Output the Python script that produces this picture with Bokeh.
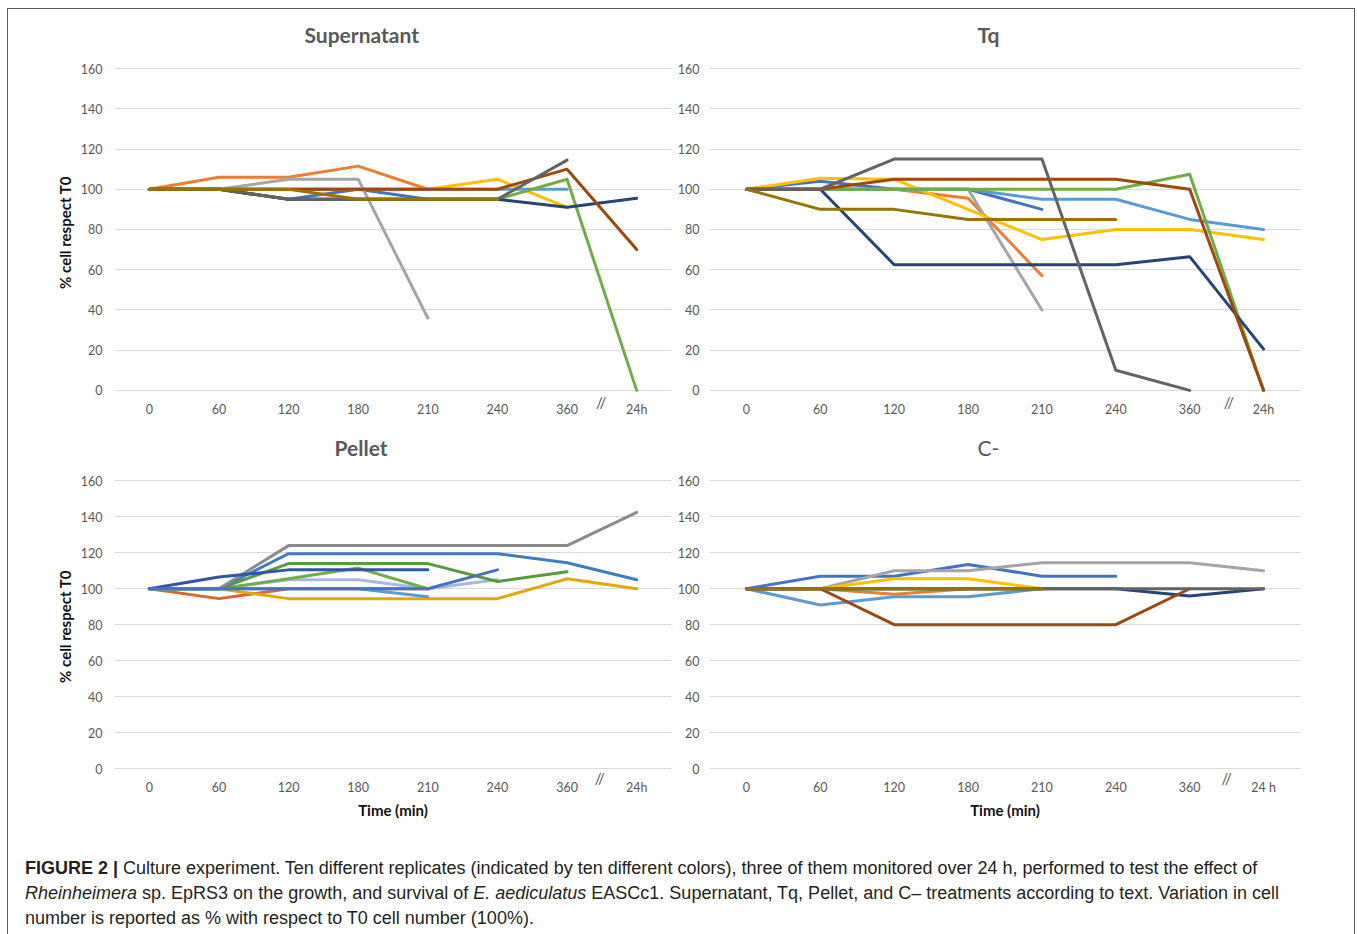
import math
from bokeh.plotting import figure
from bokeh.models import Range1d, FactorRange, Label, Div, SingleIntervalTicker
from bokeh.layouts import column, row
from bokeh.embed import file_html
from bokeh.resources import INLINE

N = None

# ---------------- data ----------------
times = ["0", "60", "120", "180", "210", "240", "360", "24h"]
times_c = ["0", "60", "120", "180", "210", "240", "360", "24 h"]
y_ticks_step = 20

std_colors = ["#4472C4", "#ED7D31", "#A5A5A5", "#FFC000", "#5B9BD5",
              "#70AD47", "#264478", "#9E480E", "#636363", "#997300"]
pellet_colors = ["#D8692E", "#E2A70C", "#5B9BD5", "#A9B8E2", "#70AD47",
                 "#5A9A3A", "#3D7EBE", "#8C8C8C", "#2F55A4", "#4472C4"]

# Supernatant (order: blue, orange, gray, yellow, light blue, green, navy, brown, dark gray, olive)
sup_blue   = [100, 100, 95, 100, 95, 95, N, N]
sup_orange = [100, 106, 106, 111.5, 100, N, N, N]
sup_gray   = [100, 100, 105, 105, 36, N, N, N]
sup_yellow = [100, 100, 100, 100, 100, 105, 91, N]
sup_lblue  = [100, 100, 100, 100, 100, 100, 100, N]
sup_green  = [100, 100, 95, 95, 95, 95, 105, 0]
sup_navy   = [100, 100, 95, 95, 95, 95, 91, 95.5]
sup_brown  = [100, 100, 100, 100, 100, 100, 110, 70]
sup_dgray  = [100, 100, 95, 95, 95, 95, 114.5, N]
sup_olive  = [100, 100, 100, 95, 95, 95, N, N]

# Tq
tq_blue   = [100, 104, 100, 100, 90, N, N, N]
tq_orange = [100, 100, 100, 95.5, 57, N, N, N]
tq_gray   = [100, 100, 100, 100, 40, N, N, N]
tq_yellow = [100, 105.5, 105, 90, 75, 80, 80, 75]
tq_lblue  = [100, 100, 100, 100, 95, 95, 85, 80]
tq_green  = [100, 100, 100, 100, 100, 100, 107.5, 0]
tq_navy   = [100, 100, 62.5, 62.5, 62.5, 62.5, 66.5, 20.5]
tq_brown  = [100, 100, 105, 105, 105, 105, 100, 0]
tq_dgray  = [100, 100, 115, 115, 115, 10, 0, N]
tq_olive  = [100, 90, 90, 85, 85, 85, N, N]

# Pellet (order: orange, gold, light blue, lavender, light green, dark green, steel blue, gray, dark blue, blue)
pel_orange = [100, 94.5, 100, 100, 100, N, N, N]
pel_gold   = [100, 100, 94.5, 94.5, 94.5, 94.5, 105.5, 100]
pel_lblue  = [100, 100, 100, 100, 95.5, N, N, N]
pel_lav    = [100, 100, 105, 105, 100, 105, N, N]
pel_lgreen = [100, 100, 105.5, 111.5, 100, N, N, N]
pel_dgreen = [100, 100, 114, 114, 114, 104, 109.5, N]
pel_steel  = [100, 100, 119.5, 119.5, 119.5, 119.5, 114.5, 105]
pel_gray   = [100, 100, 124, 124, 124, 124, 124, 142.5]
pel_dblue  = [100, 106.5, 110.5, 110.5, 110.5, N, N, N]
pel_blue   = [100, 100, 100, 100, 100, 110.5, N, N]

# C-
c_blue   = [100, 107, 107, 113.5, 107, 107, N, N]
c_orange = [100, 100, 97, 100, 100, N, N, N]
c_gray   = [100, 100, 110, 110, 114.5, 114.5, 114.5, 110]
c_yellow = [100, 100, 105.5, 105.5, 100, N, N, N]
c_lblue  = [100, 91, 95.5, 95.5, 100, N, N, N]
c_green  = [100, 100, 100, 100, 100, N, N, N]
c_navy   = [100, 100, 100, 100, 100, 100, 96, 100]
c_brown  = [100, 100, 80, 80, 80, 80, 100, N]
c_dgray  = [100, 100, 100, 100, 100, 100, 100, 100]
c_olive  = [100, 100, 100, 100, 100, N, N, N]

sup_series = [sup_blue, sup_orange, sup_gray, sup_yellow, sup_lblue,
              sup_green, sup_navy, sup_brown, sup_dgray, sup_olive]
tq_series = [tq_blue, tq_orange, tq_gray, tq_yellow, tq_lblue,
             tq_green, tq_navy, tq_brown, tq_dgray, tq_olive]
pel_series = [pel_orange, pel_gold, pel_lblue, pel_lav, pel_lgreen,
              pel_dgreen, pel_steel, pel_gray, pel_dblue, pel_blue]
c_series = [c_blue, c_orange, c_gray, c_yellow, c_lblue,
            c_green, c_navy, c_brown, c_dgray, c_olive]

FONT = "Lato"
GRAY_TXT = "#595959"


def nanify(vals):
    return [math.nan if v is None else v for v in vals]


def panel(title, factors, series, colors, width, height, mb_left, mb_right,
          mb_top, mb_bottom, y_end, title_bold, title_offset, title_standoff,
          label_standoff, y_label_standoff, ylabel=None, xlabel=None,
          break_x=7.0, break_y=-6.0):
    p = figure(x_range=FactorRange(*factors), y_range=Range1d(-10, y_end),
               width=width, height=height, output_backend="svg",
               toolbar_location=None, min_border_left=mb_left,
               min_border_right=mb_right, min_border_top=mb_top,
               min_border_bottom=mb_bottom)
    p.outline_line_color = None
    p.background_fill_color = "white"
    p.border_fill_color = "white"
    p.title.text = title
    p.title.align = "left"
    p.title.offset = title_offset
    p.title.text_font = FONT
    p.title.text_font_size = "21px"
    p.title.text_color = GRAY_TXT
    p.title.text_font_style = "bold" if title_bold else "normal"
    p.title.standoff = title_standoff
    p.xgrid.grid_line_color = None
    p.ygrid.grid_line_color = "#D9D9D9"
    p.ygrid.grid_line_width = 1
    p.yaxis.ticker = SingleIntervalTicker(interval=y_ticks_step)
    for ax in (p.xaxis[0], p.yaxis[0]):
        ax.axis_line_color = None
        ax.major_tick_line_color = None
        ax.minor_tick_line_color = None
        ax.major_tick_out = 0
        ax.major_tick_in = 0
        ax.minor_tick_out = 0
        ax.minor_tick_in = 0
        ax.major_label_text_font = FONT
        ax.major_label_text_font_size = "12.5px"
        ax.major_label_text_color = GRAY_TXT
        ax.axis_label_text_font = FONT
        ax.axis_label_text_font_size = "15px"
        ax.axis_label_text_font_style = "bold"
        ax.axis_label_text_color = "#111111"
    p.yaxis.major_label_standoff = y_label_standoff
    p.xaxis.major_label_standoff = label_standoff
    p.yaxis.axis_label_standoff = 4
    p.xaxis.axis_label_standoff = 3
    if ylabel:
        p.yaxis.axis_label = ylabel
    if xlabel:
        p.xaxis.axis_label = xlabel
    for vals, col in zip(series, colors):
        p.line(factors, nanify(vals), line_color=col, line_width=3,
               line_cap="round", line_join="round")
    p.add_layout(Label(x=break_x, y=break_y, text="//", text_font=FONT,
                       text_font_size="15px", text_color=GRAY_TXT,
                       text_align="center", text_baseline="middle"))
    return p


W1, W2 = 666, 680
p1 = panel("Supernatant", times, sup_series, std_colors, W1, 416, 106, 3, 45, 15,
           167, True, 190, 16, -9, 12, ylabel="% cell respect T0",
           break_x=6.99, break_y=-6.0)
p2 = panel("Tq", times, tq_series, std_colors, W2, 416, 34, 54, 45, 15,
           167, True, 268, 16, -9, 10, break_x=7.03, break_y=-6.0)
p3 = panel("Pellet", times, pel_series, pellet_colors, W1, 415, 106, 3, 41, 54,
           168, True, 220, 14, -7, 12, ylabel="% cell respect T0",
           xlabel="Time (min)", break_x=6.97, break_y=-5.0)
p4 = panel("C-", times_c, c_series, std_colors, W2, 415, 34, 54, 41, 54,
           168, False, 268, 14, -7, 10, xlabel="Time (min)",
           break_x=7.0, break_y=-5.5)

caption_html = (
    '<div style="font-family: \'Liberation Sans\', Arial, sans-serif; font-size:18px; '
    'line-height:25px; color:#231F20; padding:11px 10px 0 12px; white-space:nowrap;">'
    '<b>FIGURE 2 |</b> Culture experiment. Ten different replicates (indicated by ten '
    'different colors), three of them monitored over 24 h, performed to test the effect of<br>'
    '<i>Rheinheimera</i> sp. EpRS3 on the growth, and survival of <i>E. aediculatus</i> '
    'EASCc1. Supernatant, Tq, Pellet, and C&#8211; treatments according to text. Variation '
    'in cell<br>number is reported as % with respect to T0 cell number (100%).</div>'
)
caption = Div(text=caption_html, width=W1 + W2, height=85)

layout = column(row(p1, p2), row(p3, p4), caption,
                styles={"border": "1px solid #5a5a5a", "background": "white",
                        "margin-left": "7px", "margin-top": "8px",
                        "width": "1348px", "box-sizing": "border-box",
                        "display": "block"})

open("out.html", "w").write(file_html(layout, INLINE))
